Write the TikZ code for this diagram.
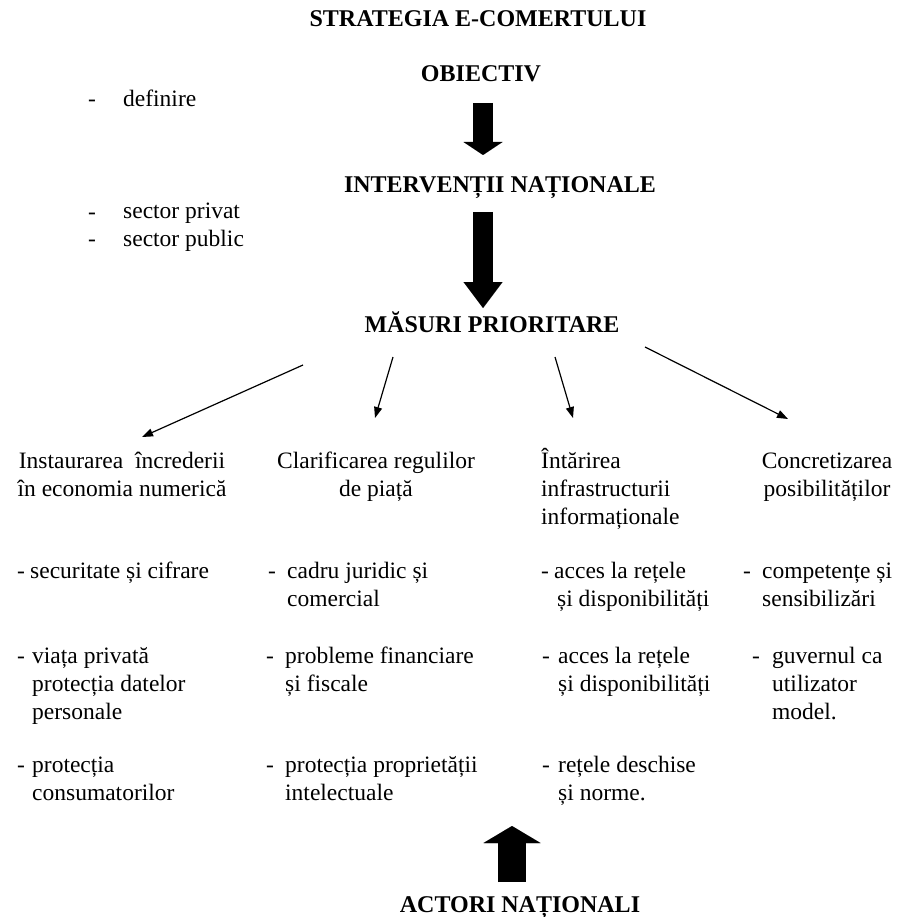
\documentclass[tikz,border=0pt]{standalone}
\usepackage{fontspec}
\setmainfont{Liberation Serif}
\usetikzlibrary{arrows.meta}

\begin{document}
\begin{tikzpicture}[x=1pt, y=-1pt,
  titlu/.style={font=\fontsize{24}{28}\selectfont\bfseries, inner sep=0pt, anchor=base},
  scris/.style={font=\fontsize{23.5}{28}\selectfont, inner sep=0pt, anchor=base west, align=left},
  antet/.style={scris, anchor=base, align=center},
  liniuta/.style={font=\fontsize{23.5}{28}\selectfont, inner sep=0pt, anchor=base west},
  sageata/.style={-{Triangle[length=11pt,width=8pt]}, line width=1.2pt},
  bloc/.style={line width=20pt, -{Triangle[length=#1,width=39pt,line width=0.01pt]}}]
\useasboundingbox (0,0) rectangle (899,917);
\fill[white] (0,0) rectangle (899,917);
% titluri
\node[titlu] (strat) at (478,27) {STRATEGIA E-COMERTULUI};
\node[titlu] (obiectiv) at (481,82) {OBIECTIV};
\node[titlu] (interv) at (500,193) {INTERVENȚII NAȚIONALE};
\node[titlu] (masuri) at (492,332) {MĂSURI PRIORITARE};
\node[titlu] (actori) at (520,912) {ACTORI NAȚIONALI};
% note din stanga (nodurile cu mai multe randuri: baza = ultimul rand)
\node[liniuta] (l0) at (88,107) {-};
\node[scris] (definire) at (123,107) {definire};
\node[liniuta] (l1) at (88,219) {-};
\node[liniuta] (l2) at (88,246) {-};
\node[scris] (sector) at (123,246) {sector privat\\sector public};
% coloane
\node[antet] (h1) at (122,496) {Instaurarea~ încrederii\\în economia numerică};
\node[antet] (h2) at (376,496) {Clarificarea regulilor\\de piață};
\node[scris] (h3) at (541,524) {Întărirea\\infrastructurii\\informaționale};
\node[antet] (h4) at (827,496) {Concretizarea\\posibilităților};
% randul 1
\node[liniuta] (l11) at (17,578) {-};
\node[scris] (c1a) at (30,578) {securitate și cifrare};
\node[liniuta] (l21) at (268,578) {-};
\node[scris] (c2a) at (287,606) {cadru juridic și\\comercial};
\node[liniuta] (l31) at (541,578) {-};
\node[scris] (c3a) at (554,606) {acces la rețele\\\hspace{3pt}și disponibilități};
\node[liniuta] (l41) at (743,578) {-};
\node[scris] (c4a) at (762,606) {competențe și\\sensibilizări};
% randul 2
\node[liniuta] (l12) at (17,663) {-};
\node[scris] (c1b) at (32,719) {viața privată\\protecția datelor\\personale};
\node[liniuta] (l22) at (266,663) {-};
\node[scris] (c2b) at (285,691) {probleme financiare\\și fiscale};
\node[liniuta] (l32) at (542,663) {-};
\node[scris] (c3b) at (558,691) {acces la rețele\\și disponibilități};
\node[liniuta] (l42) at (752,663) {-};
\node[scris] (c4b) at (772,719) {guvernul ca\\utilizator\\model.};
% randul 3
\node[liniuta] (l13) at (17,772) {-};
\node[scris] (c1c) at (32,800) {protecția\\consumatorilor};
\node[liniuta] (l23) at (266,772) {-};
\node[scris] (c2c) at (285,800) {protecția proprietății\\intelectuale};
\node[liniuta] (l33) at (542,772) {-};
\node[scris] (c3c) at (558,800) {rețele deschise\\și norme.};
% sageti groase
\draw[bloc=13pt] ([shift={(2,21)}]obiectiv.base) -- ([shift={(-17,-38)}]interv.base);
\draw[bloc=26pt] ([shift={(-17,19)}]interv.base) -- ([shift={(-9,-24)}]masuri.base);
\coordinate (sus) at (512,826);
\draw[line width=28pt, -{Triangle[length=17pt,width=57pt,line width=0.01pt]}] ([shift={(-8,-30)}]actori.base) -- (sus);
% sageti subtiri
\draw[sageata] ([shift={(-189,33)}]masuri.base) -- ([shift={(20,-59)}]h1.base);
\draw[sageata] ([shift={(-99,25)}]masuri.base) -- ([shift={(-1,-78)}]h2.base);
\draw[sageata] ([shift={(63,25)}]masuri.base) -- ([shift={(32,-106)}]h3.base west);
\draw[sageata] ([shift={(153,15)}]masuri.base) -- ([shift={(-39,-77)}]h4.base);
\end{tikzpicture}
\end{document}
